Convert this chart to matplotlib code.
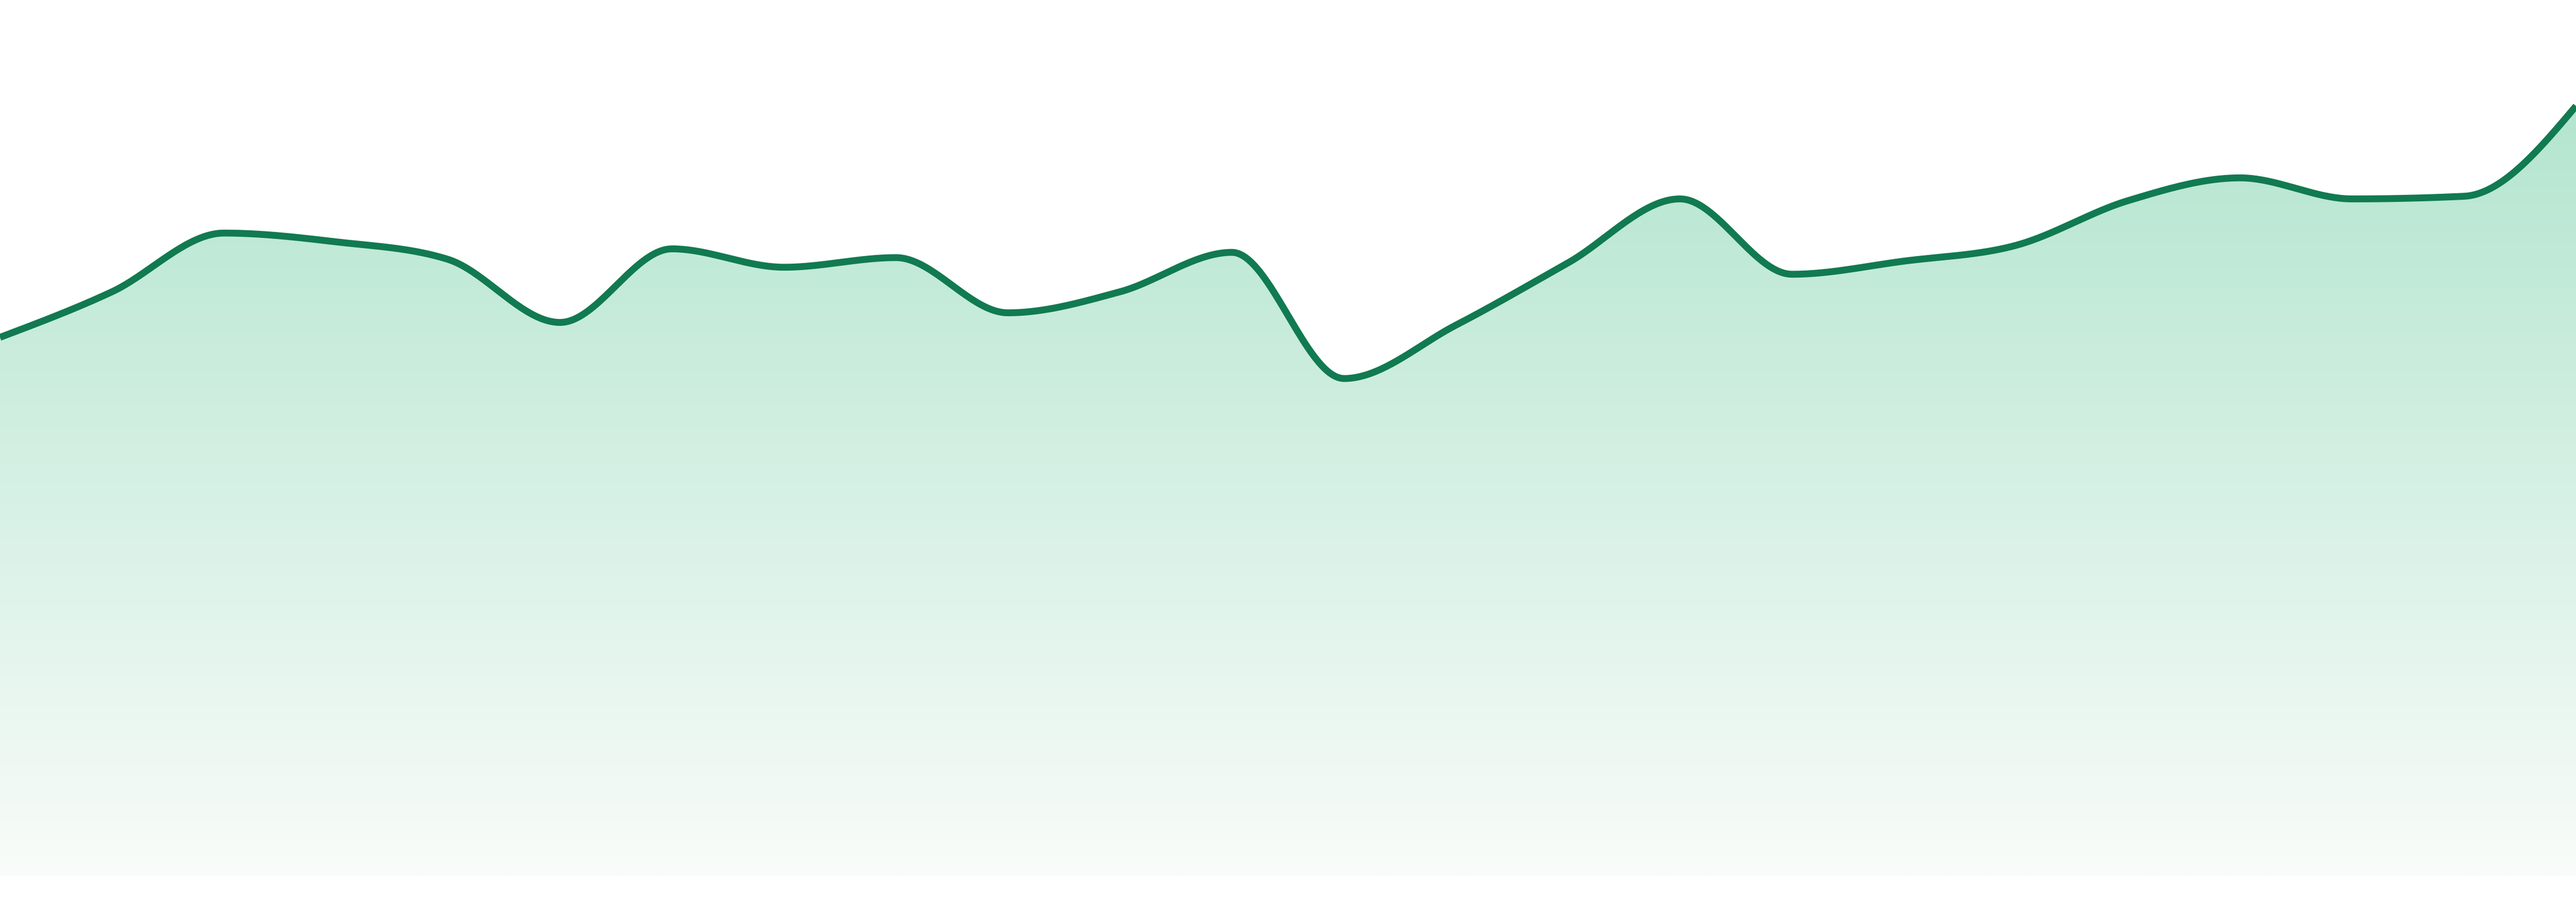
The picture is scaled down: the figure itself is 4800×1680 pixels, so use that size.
import matplotlib
matplotlib.use("Agg")
import matplotlib.pyplot as plt
import numpy as np

# one value per step (24 points, evenly spaced)
steps = list(range(24))
values = [61.5, 66.7, 73.4, 72.4, 70.4, 63.2, 71.6, 69.5, 70.6, 64.3, 66.7, 71.2,
          56.8, 62.9, 70.0, 77.3, 68.7, 70.2, 72.0, 77.1, 79.7, 77.3, 77.6, 87.9]

line_color = "#117a51"
grad_top = (170, 226, 201)
grad_bottom = (249, 252, 250)


def monotone_curve(x, y, n=40):
    # monotone cubic (Steffen) like d3.curveMonotoneX, sampled densely for drawing
    x = np.asarray(x, float)
    y = np.asarray(y, float)
    h = np.diff(x)
    s = np.diff(y) / h
    t = np.zeros_like(y)
    for i in range(1, len(y) - 1):
        p = (s[i - 1] * h[i] + s[i] * h[i - 1]) / (h[i - 1] + h[i])
        t[i] = (np.sign(s[i - 1]) + np.sign(s[i])) * min(abs(s[i - 1]), abs(s[i]), 0.5 * abs(p))
    t[0] = (3 * s[0] - t[1]) / 2
    t[-1] = (3 * s[-1] - t[-2]) / 2
    xs, ys = [], []
    for i in range(len(h)):
        u = np.linspace(0, 1, n, endpoint=False)
        h00 = 2 * u**3 - 3 * u**2 + 1
        h10 = u**3 - 2 * u**2 + u
        h01 = -2 * u**3 + 3 * u**2
        h11 = u**3 - u**2
        xs.append(x[i] + u * h[i])
        ys.append(h00 * y[i] + h10 * h[i] * t[i] + h01 * y[i + 1] + h11 * h[i] * t[i + 1])
    xs.append([x[-1]])
    ys.append([y[-1]])
    return np.concatenate(xs), np.concatenate(ys)


fig = plt.figure(figsize=(24, 8.4), dpi=200)
ax = fig.add_axes([0, 48 / 1680, 1, 1632 / 1680])
ax.set_xlim(0, 23)
ax.set_ylim(0, 100)
ax.axis("off")

cx, cy = monotone_curve(steps, values)

# gradient fill under the curve
poly = ax.fill_between(cx, cy, 0, facecolor="none", edgecolor="none")
frac = np.linspace(0, 1, 256)[:, None]
grad = np.zeros((256, 1, 3))
for k in range(3):
    grad[:, 0, k] = (grad_bottom[k] + (grad_top[k] - grad_bottom[k]) * frac[:, 0]) / 255
img = ax.imshow(grad, extent=[0, 23, 0, 100], aspect="auto", origin="lower",
                interpolation="bilinear", zorder=1)
img.set_clip_path(poly.get_paths()[0], transform=ax.transData)

ax.plot(cx, cy, color=line_color, lw=4.6, solid_capstyle="butt", zorder=3)

fig.savefig("out.png", dpi=200, facecolor="white")
